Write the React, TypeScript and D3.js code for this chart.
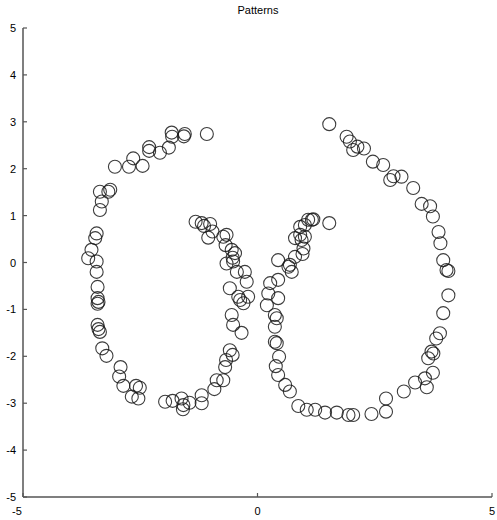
import React, { useEffect, useRef } from "react";
import * as d3 from "d3";

// left "C" shape (outer arc + inner arc), data units
const leftX = [
  -1.08, -1.55, -1.57, -1.83, -1.82, -1.89, -2.08, -2.31, -2.31, -2.65, -2.45, -2.74, -3.04,
  -3.14, -3.36, -3.18, -3.32, -3.36, -3.43, -3.46, -3.54, -3.61, -3.43, -3.43, -3.41, -3.41,
  -3.39, -3.41, -3.41, -3.39, -3.36, -3.31, -3.22, -2.92, -2.95, -2.86, -2.59, -2.51, -2.68,
  -2.54, -1.97, -1.81, -1.62, -1.58, -1.59, -1.45, -1.19, -1.19, -0.92, -0.87, -0.73, -0.69,
  -0.67, -0.59, -0.53, -0.55, -0.52, -0.34, -0.3, -0.41, -0.2, -0.37, -0.59, -0.23, -0.27,
  -0.44, -0.66, -0.52, -0.48, -0.55, -0.66, -0.68, -0.73, -0.96, -1.05, -1.01, -1.14, -1.19,
  -1.32, -0.53,
];
const leftY = [
  2.74, 2.74, 2.69, 2.77, 2.68, 2.45, 2.34, 2.46, 2.38, 2.22, 2.06, 2.04, 2.04,
  1.55, 1.51, 1.51, 1.3, 1.12, 0.62, 0.52, 0.27, 0.09, 0.02, -0.2, -0.52, -0.76,
  -0.84, -0.88, -1.33, -1.42, -1.48, -1.83, -1.99, -2.23, -2.43, -2.63, -2.63, -2.67, -2.86,
  -2.9, -2.97, -2.95, -2.9, -3.04, -3.13, -2.99, -2.83, -3.0, -2.7, -2.51, -2.51, -2.23,
  -2.08, -1.87, -1.97, -1.12, -1.33, -1.5, -0.87, -0.73, -0.73, -0.8, -0.55, -0.41, -0.2,
  -0.2, -0.02, 0.02, 0.2, 0.27, 0.59, 0.37, 0.55, 0.66, 0.53, 0.82, 0.78, 0.84,
  0.87, 0.1,
];

// right mirrored shape
const rightX = [
  1.53, 1.9, 1.97, 2.04, 2.13, 2.27, 2.46, 2.68, 2.83, 2.9, 3.07, 3.32, 3.5, 3.68, 3.74,
  3.86, 3.9, 3.96, 4.03, 4.07, 4.07, 3.96, 3.89, 3.81, 3.71, 3.64, 3.75, 3.74, 3.57, 3.61,
  3.36, 3.12, 2.74, 2.74, 2.43, 2.04, 1.94, 1.69, 1.44, 1.23, 1.05, 0.87, 0.69, 0.59, 0.44,
  0.39, 0.46, 0.41, 0.37, 0.37, 0.41, 0.37, 0.2, 0.44, 0.23, 0.27, 0.44, 0.73, 0.66, 0.44,
  0.8, 0.98, 0.94, 0.8, 1.01, 0.91, 1.01, 1.08, 1.16, 1.19, 0.91, 1.53, 0.96, 0.69,
];
const rightY = [
  2.95, 2.68, 2.58, 2.4, 2.47, 2.43, 2.15, 2.08, 1.76, 1.84, 1.83, 1.59, 1.25, 1.2, 0.98,
  0.65, 0.41, 0.05, -0.16, -0.18, -0.7, -1.08, -1.51, -1.62, -1.9, -2.04, -1.94, -2.35, -2.47, -2.66,
  -2.56, -2.75, -2.9, -3.18, -3.23, -3.25, -3.25, -3.2, -3.2, -3.14, -3.14, -3.06, -2.75, -2.61, -2.4,
  -2.21, -2.01, -1.72, -1.69, -1.37, -1.19, -1.12, -0.91, -0.76, -0.66, -0.44, -0.37, -0.2, -0.09, 0.05,
  0.12, 0.3, 0.48, 0.52, 0.55, 0.59, 0.8, 0.91, 0.91, 0.92, 0.76, 0.84, 0.18, -0.05,
];

const yTicks = [-5, -4, -3, -2, -1, 0, 1, 2, 3, 4, 5];
const xTicks = [-5, 0, 5];
const title = "Patterns";

const W = 497;
const H = 520;

const App = () => {
  const ref = useRef<SVGSVGElement>(null);

  useEffect(() => {
    const svg = d3.select(ref.current);
    svg.selectAll("*").remove();

    const x = d3.scaleLinear().domain([-5, 5]).range([23, 492]);
    const y = d3.scaleLinear().domain([-5, 5]).range([497, 28]);

    svg
      .append("text")
      .attr("x", 258)
      .attr("y", 14)
      .attr("text-anchor", "middle")
      .attr("font-size", 11)
      .text(title);

    const axisColor = "#555";
    // axis lines
    svg.append("line").attr("x1", x(-5)).attr("x2", x(-5)).attr("y1", y(5)).attr("y2", y(-5))
      .attr("stroke", axisColor).attr("stroke-width", 1.5);
    svg.append("line").attr("x1", x(-5)).attr("x2", x(5)).attr("y1", y(-5)).attr("y2", y(-5))
      .attr("stroke", axisColor).attr("stroke-width", 1.5);

    // y ticks (pointing inward)
    const yg = svg.append("g");
    yg.selectAll("line").data(yTicks).enter().append("line")
      .attr("x1", x(-5)).attr("x2", x(-5) + 4)
      .attr("y1", (d) => y(d)).attr("y2", (d) => y(d))
      .attr("stroke", axisColor).attr("stroke-width", 1.2);
    yg.selectAll("text").data(yTicks).enter().append("text")
      .attr("x", 16).attr("y", (d) => y(d) + 4)
      .attr("text-anchor", "end")
      .attr("font-size", 11)
      .text((d) => d);

    const xg = svg.append("g");
    xg.selectAll("line").data(xTicks).enter().append("line")
      .attr("x1", (d) => x(d)).attr("x2", (d) => x(d))
      .attr("y1", y(-5)).attr("y2", y(-5) - 4)
      .attr("stroke", axisColor).attr("stroke-width", 1.2);
    xg.selectAll("text").data(xTicks).enter().append("text")
      .attr("x", (d) => (d === -5 ? x(d) - 6 : x(d)))
      .attr("y", 515)
      .attr("text-anchor", "middle")
      .attr("font-size", 11)
      .text((d) => d);

    const pts = leftX.map((v, i) => [v, leftY[i]])
      .concat(rightX.map((v, i) => [v, rightY[i]]));

    svg.append("g").selectAll("circle").data(pts).enter().append("circle")
      .attr("cx", (d) => x(d[0]))
      .attr("cy", (d) => y(d[1]))
      .attr("r", 6.5)
      .attr("fill", "none")
      .attr("stroke", "#1a1a1a")
      .attr("stroke-opacity", 0.85)
      .attr("stroke-width", 1.1);
  }, []);

  return (
    <svg
      ref={ref}
      width={W}
      height={H}
      style={{ position: "absolute", left: 0, top: 0, fontFamily: "'Liberation Sans', Arial, sans-serif" }}
    />
  );
};

export default App;
